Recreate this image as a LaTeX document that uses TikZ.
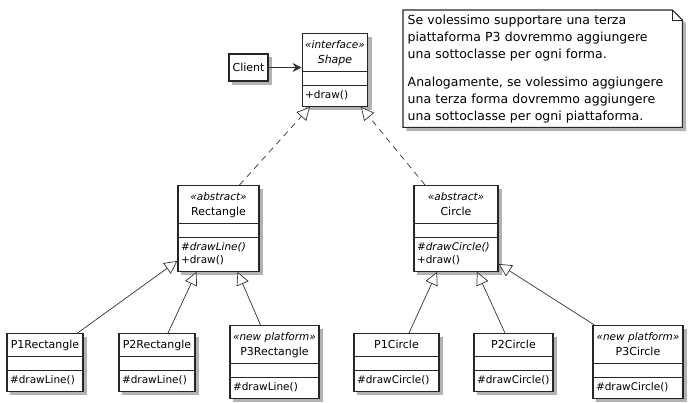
\documentclass[tikz,border=0pt]{standalone}
\usepackage{fontspec}
\setmainfont{DejaVu Sans}
\usetikzlibrary{shapes.multipart,shadows,arrows.meta,backgrounds}

\newcommand{\clshead}[2]{\begin{tabular}{@{}c@{}}{\fontsize{10.5}{12}\selectfont\itshape «#1»}\\#2\end{tabular}}
\newcommand{\clsname}[1]{\begin{tabular}{@{}c@{}}#1\end{tabular}}
\newcommand{\ops}[1]{{\fontsize{10.5}{13}\selectfont\begin{tabular}{@{}l@{}}#1\end{tabular}}}

\tikzset{
  shade/.style={drop shadow={shadow xshift=3.5pt,shadow yshift=-3.5pt,fill=black!30,draw=black!30,opacity=1}},
  umlclass/.style={draw=black!85, fill=white, line width=1.1pt, shade,
    rectangle split, rectangle split parts=3,
    rectangle split part align={center,left,left},
    inner xsep=3pt, inner ysep=3.5pt, anchor=north,
    font=\fontsize{11}{15}\selectfont},
  inherit/.style={draw=black!80, line width=.7pt, -{Triangle[open,length=13pt,width=13pt,fill=white]}},
  realize/.style={inherit, dash pattern=on 6pt off 5pt},
  uses/.style={draw=black!80, line width=.8pt, -{Stealth[length=9pt,width=9pt,inset=3pt]}}
}

\begin{document}
\begin{tikzpicture}[x=1pt,y=-1pt]
	\useasboundingbox (0,0) rectangle (693,402);

	% top row
	\node[draw=black!85, fill=white, line width=1.1pt, shade, font=\fontsize{11}{13}\selectfont,
		minimum width=39pt, minimum height=27pt, inner sep=2pt] (client) at (248.5,67.5) {Client};
	\node[umlclass, minimum width=64pt] (shape) at (335,33)
		{\itshape\clshead{interface}{Shape}\nodepart{three}\ops{+draw()}};

	% abstract shapes
	\node[umlclass, minimum width=81pt] (rect) at (218.5,185)
		{\clshead{abstract}{Rectangle}\nodepart{three}\ops{\textit{\#drawLine()}\\+draw()}};
	\node[umlclass, minimum width=84pt] (circ) at (456,185)
		{\clshead{abstract}{Circle}\nodepart{three}\ops{\textit{\#drawCircle()}\\+draw()}};

	% platform classes
	\node[umlclass, minimum width=76pt] (p1rect) at (45,333)
		{\clsname{P1Rectangle}\nodepart{three}\ops{\#drawLine()}};
	\node[umlclass, minimum width=76pt] (p2rect) at (157,333)
		{\clsname{P2Rectangle}\nodepart{three}\ops{\#drawLine()}};
	\node[umlclass, minimum width=89pt] (p3rect) at (274.5,325)
		{\clshead{new platform}{P3Rectangle}\nodepart{three}\ops{\#drawLine()}};
	\node[umlclass, minimum width=85pt] (p1circ) at (396.5,333)
		{\clsname{P1Circle}\nodepart{three}\ops{\#drawCircle()}};
	\node[umlclass, minimum width=79pt] (p2circ) at (513.5,333)
		{\clsname{P2Circle}\nodepart{three}\ops{\#drawCircle()}};
	\node[umlclass, minimum width=90pt] (p3circ) at (638,325)
		{\clshead{new platform}{P3Circle}\nodepart{three}\ops{\#drawCircle()}};

	% note
	\node[anchor=north west, minimum width=279pt, minimum height=117pt, text width=270pt,
		inner xsep=4.5pt, align=left, font=\fontsize{12.5}{17}\selectfont] (note) at (403,10)
		{Se volessimo supportare una terza\\piattaforma P3 dovremmo aggiungere\\una sottoclasse per ogni forma.\\[11pt]
		 Analogamente, se volessimo aggiungere\\una terza forma dovremmo aggiungere\\una sottoclasse per ogni piattaforma.};
	\begin{scope}[on background layer, yshift=2pt]
		\draw[draw=black!85, fill=white, line width=1.1pt, shade] (note.north west) -- ([xshift=-10pt]note.north east)
			-- ([yshift=-10pt]note.north east) -- (note.south east) -- (note.south west) -- cycle;
		\draw[draw=black!85, line width=.7pt] ([xshift=-10pt]note.north east) |- ([yshift=-10pt]note.north east);
	\end{scope}

	% connectors
	\draw[uses] (client) -- (shape.west |- client);
	\draw[realize] ([xshift=21pt]rect.north) -- ([xshift=-25pt]shape.south);
	\draw[realize] ([xshift=-31pt]circ.north) -- ([xshift=26pt]shape.south);
	\draw[inherit] ([xshift=-6pt]p1rect.north east) -- ([yshift=11pt]rect.south west);
	\draw[inherit] ([xshift=11pt]p2rect.north) -- ([xshift=-22pt]rect.south);
	\draw[inherit] ([xshift=-14pt]p3rect.north) -- ([xshift=19pt]rect.south);
	\draw[inherit] ([xshift=12.5pt]p1circ.north) -- ([xshift=-19pt]circ.south);
	\draw[inherit] ([xshift=-8.5pt]p2circ.north) -- ([xshift=21pt]circ.south);
	\draw[inherit] ([xshift=2pt]p3circ.north west) -- ([yshift=8pt]circ.south east);
\end{tikzpicture}
\end{document}
